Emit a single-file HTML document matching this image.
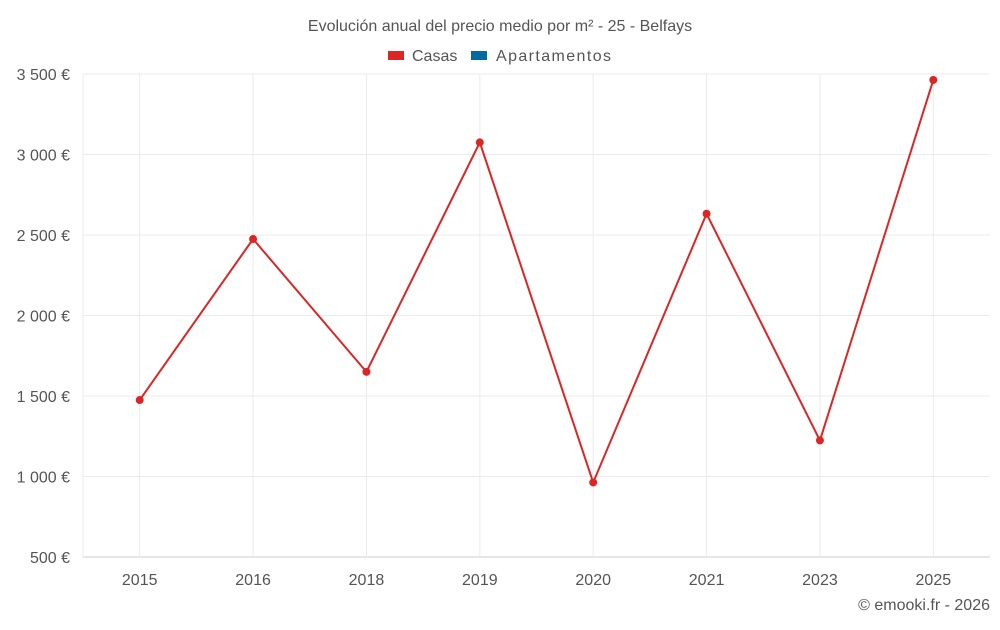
<!DOCTYPE html>
<html><head><meta charset="utf-8"><style>
body{margin:0;background:#fff;font-family:"Liberation Sans",sans-serif;}
svg text{font-family:"Liberation Sans",sans-serif;fill:#555;}
</style></head><body>
<svg id="chart" width="1000" height="625" xmlns="http://www.w3.org/2000/svg">
<text x="500" y="31" text-anchor="middle" font-size="16">Evolución anual del precio medio por m² - 25 - Belfays</text>
<g>
<rect x="388" y="51" width="16" height="9" fill="#dc2626"/>
<text x="412" y="61" font-size="16">Casas</text>
<rect x="471" y="51" width="16" height="9" fill="#0369a1"/>
<text x="496" y="61" font-size="16" textLength="115">Apartamentos</text>
</g>
<g id="grid"></g><g id="axes"></g><g id="series"></g>
<text x="990" y="610" text-anchor="end" font-size="16">© emooki.fr - 2026</text>
</svg>
<script>
const categories=["2015","2016","2018","2019","2020","2021","2023","2025"];
const casasValues=[1475,2475,1650,3075,963,2632,1224,3463];
const yTicks=[500,1000,1500,2000,2500,3000,3500];
const NS="http://www.w3.org/2000/svg";
const L=83,R=990,T=74,B=557,yMin=500,yMax=3500;
const band=(R-L)/categories.length;
const x=i=>L+band*(i+0.5);
const y=v=>B-(v-yMin)/(yMax-yMin)*(B-T);
function mk(tag,attrs,parent){const e=document.createElementNS(NS,tag);for(const k in attrs)e.setAttribute(k,attrs[k]);document.getElementById(parent).appendChild(e);return e;}
yTicks.forEach(t=>{
 const l=mk('line',{x1:L,x2:R,y1:y(t),y2:y(t),stroke:t===yMin?'#ccc':'#ebebeb'},'grid');
 
 
 const tx=mk('text',{x:70,y:y(t)+6,'text-anchor':'end','font-size':16},'axes');
 tx.textContent=t.toLocaleString('fr-FR').replace(/\s/g,' ')+' €';
 
 
});
const le=mk('line',{x1:L,x2:L,y1:T,y2:B,stroke:'#ebebeb'},'grid');


categories.forEach((c,i)=>{
 const l=mk('line',{x1:x(i),x2:x(i),y1:T,y2:B,stroke:'#ebebeb'},'grid');
 
 
 const tx=mk('text',{x:x(i),y:585,'text-anchor':'middle','font-size':16},'axes');
 tx.textContent=c;
 
 
});
const p=mk('polyline',{points:casasValues.map((v,i)=>x(i)+','+y(v)).join(' '),fill:'none',stroke:'#dc2626','stroke-width':2},'series');


casasValues.forEach((v,i)=>{
 const c=mk('circle',{cx:x(i),cy:y(v),r:4,fill:'#dc2626'},'series');
 
 
});
</script>
</body></html>
